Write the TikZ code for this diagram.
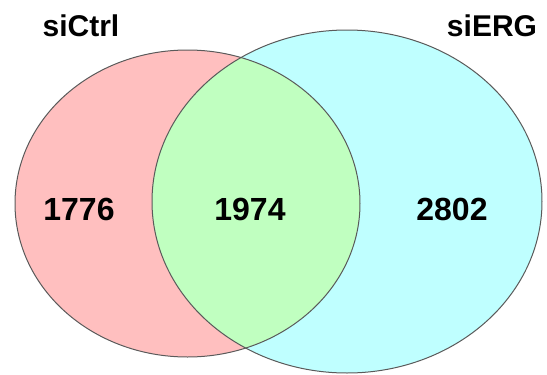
\documentclass[tikz,border=0pt]{standalone}
\usepackage{fontspec}
\setmainfont{Liberation Sans}
\definecolor{pinkfill}{HTML}{FFBFBF}
\definecolor{cyanfill}{HTML}{BFFFFF}
\definecolor{greenfill}{HTML}{C0FFC0}
\definecolor{edgegray}{HTML}{5A5A5A}
\tikzset{
  setlabel/.style={inner sep=0pt, font=\bfseries\fontsize{30}{34}\selectfont},
  countlabel/.style={inner sep=0pt, font=\bfseries\fontsize{32}{36}\selectfont},
  outline/.style={draw=edgegray, line width=1pt}
}
\begin{document}
\begin{tikzpicture}[x=1pt,y=-1pt]
\useasboundingbox (0,0) rectangle (547,375);
\fill[pinkfill] (187.5,203.5) ellipse [x radius=172.5, y radius=153.5];
\fill[cyanfill] (347,201.5) ellipse [x radius=195, y radius=171.5];
\begin{scope}
  \clip (187.5,203.5) ellipse [x radius=172.5, y radius=153.5];
  \fill[greenfill] (347,201.5) ellipse [x radius=195, y radius=171.5];
\end{scope}
\draw[outline] (187.5,203.5) ellipse [x radius=172.5, y radius=153.5];
\draw[outline] (347,201.5) ellipse [x radius=195, y radius=171.5];
\node[setlabel] (ctrl) at (81,26) {siCtrl};
\node[setlabel] (erg) at (492,26) {siERG};
\node[countlabel] (n1) at (79,209) {1776};
\node[countlabel] (n2) at (250,209) {1974};
\node[countlabel] (n3) at (452,209) {2802};
\end{tikzpicture}
\end{document}
